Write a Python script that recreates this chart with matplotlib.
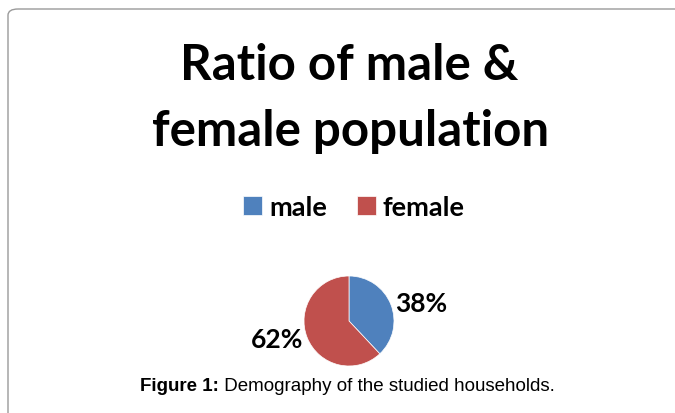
import numpy as np
import matplotlib.pyplot as plt
from matplotlib.patches import FancyBboxPatch

categories = ['male', 'female']
shares = [38, 62]
colors = ['#4F81BD', '#C0504D']
title_lines = ['Ratio of male &', 'female population']
caption_bold = 'Figure 1:'
caption_text = ' Demography of the studied households.'

W, H = 675, 414
fig = plt.figure(figsize=(W / 100, H / 100), dpi=100)
fig.patch.set_facecolor('white')


def fx(px):
    return px / W


def fy(py):
    return 1 - py / H


# frame (only top and left edges visible, rounded corner)
frame = FancyBboxPatch((fx(8), fy(440)), fx(700), fy(10) - fy(440),
                       boxstyle='round,pad=0,rounding_size=0.015',
                       transform=fig.transFigure, facecolor='none',
                       edgecolor='#9a9a9a', linewidth=1.0, clip_on=False)
fig.patches.append(frame)

# title
title_font = ['Lato', 'DejaVu Sans']
fig.text(fx(349), fy(66), title_lines[0], ha='center', va='center',
         fontsize=35.5, fontweight='bold', family=title_font)
fig.text(fx(351), fy(131), title_lines[1], ha='center', va='center',
         fontsize=35.5, fontweight='bold', family=title_font)

# pie
r = 45
cx, cy = 349, 322
ax = fig.add_axes([fx(cx - r), fy(cy + r), fx(2 * r), fy(cy - r) - fy(cy + r)])
wedges, texts = ax.pie(shares, colors=colors, startangle=90, counterclock=False,
                       wedgeprops=dict(edgecolor='white', linewidth=0.5))
ax.set_xlim(-1, 1)
ax.set_ylim(-1, 1)
ax.set_aspect('equal')

# data labels at "outside end", like Excel
for w, v in zip(wedges, shares):
    mid = np.deg2rad((w.theta1 + w.theta2) / 2)
    x, y = 1.1 * np.cos(mid), 1.1 * np.sin(mid)
    ax.text(x, y, f'{v}%', ha='left' if x > 0 else 'right', va='center',
            fontsize=19, fontweight='bold', family=title_font, clip_on=False)

# legend
leg = fig.legend(wedges, categories, loc='center', bbox_to_anchor=(fx(354), fy(208)),
                 ncol=2, frameon=False, handlelength=0.7, handleheight=0.7,
                 handletextpad=0.25, columnspacing=1.1,
                 prop=dict(size=19.5, weight='bold', family=title_font))

# caption
cap_font = ['Liberation Sans', 'DejaVu Sans']
t1 = fig.text(fx(140), fy(387), caption_bold, ha='left', va='center',
              fontsize=13.5, fontweight='bold', family=cap_font)
fig.canvas.draw()
bb = t1.get_window_extent()
fig.text(bb.x1 / W, fy(387), caption_text, ha='left', va='center',
         fontsize=13.5, family=cap_font)

plt.savefig('out.png', dpi=100)
